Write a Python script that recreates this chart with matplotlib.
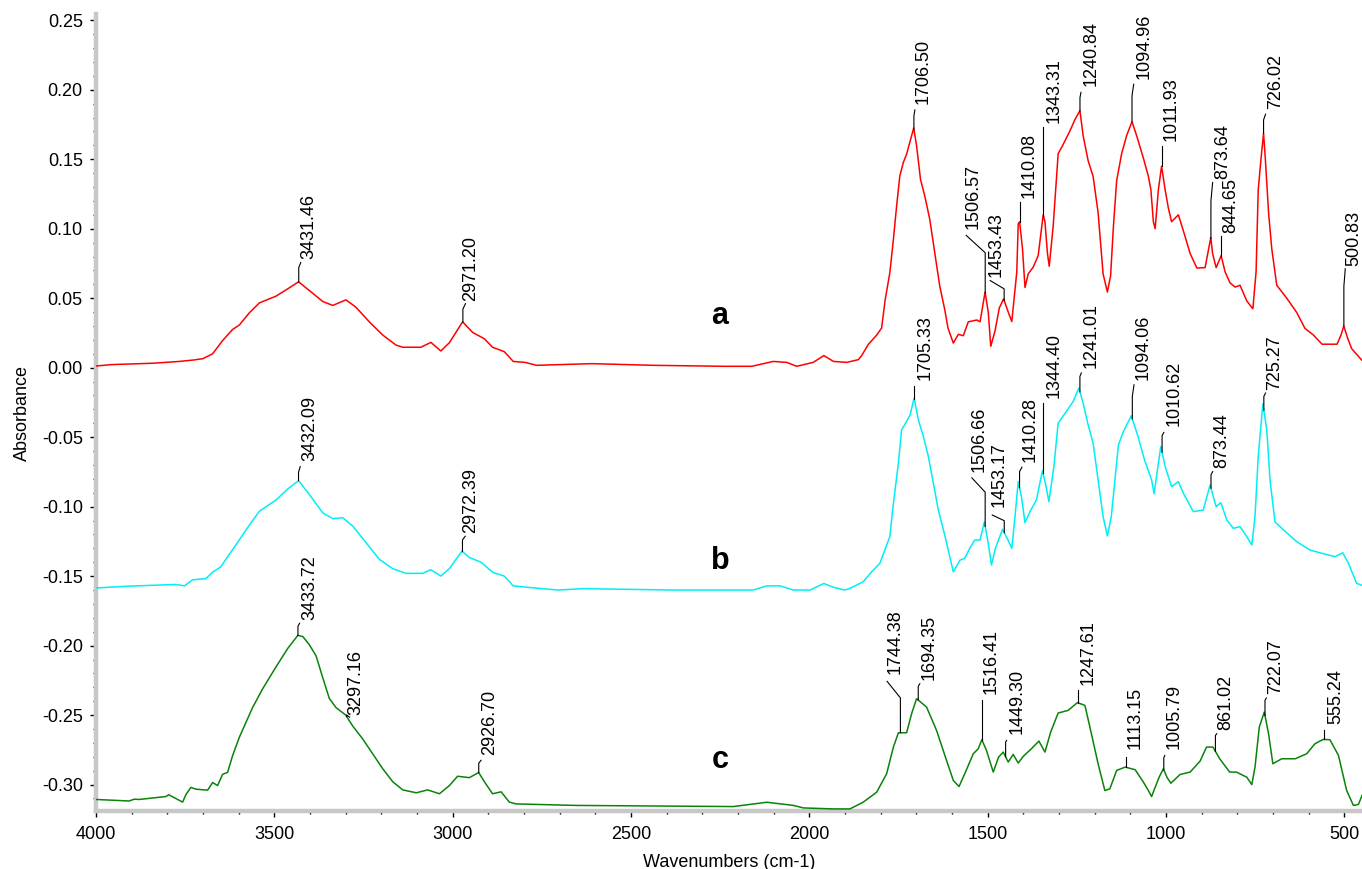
import numpy as np
import matplotlib
matplotlib.use("Agg")
import matplotlib.pyplot as plt
from matplotlib.ticker import MultipleLocator, FormatStrFormatter

plt.rcParams["font.family"] = ["Liberation Sans", "DejaVu Sans"]
plt.rcParams["axes.unicode_minus"] = False

# ---- spectra (wavenumber, absorbance) ----
red_wn = [4000, 3958, 3841, 3766, 3724, 3700, 3673, 3645, 3617, 3598, 3570, 3542,
          3495, 3462, 3432, 3402, 3364, 3336, 3299, 3271, 3233, 3196, 3159, 3140,
          3089, 3061, 3033, 3009, 2972, 2944, 2911, 2888, 2855, 2830, 2797, 2764,
          2610, 2437, 2241, 2161, 2101, 2063, 2035, 1989, 1959, 1932, 1895, 1862,
          1853, 1834, 1811, 1797, 1787, 1774, 1764, 1755, 1746, 1736, 1727, 1718,
          1707, 1699, 1688, 1676, 1662, 1648, 1634, 1620, 1611, 1596, 1582, 1568,
          1554, 1530, 1521, 1507, 1498, 1491, 1479, 1467, 1455, 1442, 1432, 1418,
          1414, 1410, 1402, 1395, 1386, 1372, 1358, 1344, 1339, 1332, 1327, 1316,
          1302, 1288, 1269, 1255, 1241, 1232, 1218, 1204, 1190, 1176, 1164, 1155,
          1147, 1138, 1124, 1110, 1095, 1082, 1063, 1049, 1042, 1035, 1030, 1021,
          1012, 1002, 993, 984, 965, 951, 932, 913, 890, 874, 869, 859, 845, 834,
          820, 806, 792, 773, 756, 747, 741, 733, 726, 721, 712, 703, 689, 661,
          633, 610, 586, 562, 520, 509, 501, 491, 479, 451]
red_abs = [0.0012, 0.0022, 0.0032, 0.0045, 0.0056, 0.0065, 0.0100, 0.0195, 0.0275,
           0.0307, 0.0395, 0.0466, 0.0515, 0.0568, 0.0618, 0.0555, 0.0476, 0.0448,
           0.0488, 0.0435, 0.0328, 0.0235, 0.0163, 0.0147, 0.0147, 0.0182, 0.0120,
           0.0180, 0.0330, 0.0254, 0.0208, 0.0147, 0.0115, 0.0045, 0.0038, 0.0017,
           0.0029, 0.0017, 0.0010, 0.0010, 0.0045, 0.0038, 0.0010, 0.0038, 0.0087,
           0.0045, 0.0038, 0.0058, 0.0087, 0.0169, 0.0234, 0.0286, 0.0490, 0.0683,
           0.0923, 0.1163, 0.1380, 0.1478, 0.1536, 0.1620, 0.1725, 0.1596, 0.1355,
           0.1235, 0.1067, 0.0827, 0.0586, 0.0418, 0.0286, 0.0177, 0.0240, 0.0230,
           0.0330, 0.0343, 0.0330, 0.0544, 0.0400, 0.0154, 0.0265, 0.0430, 0.0495,
           0.0400, 0.0332, 0.0690, 0.1035, 0.1050, 0.0855, 0.0577, 0.0675, 0.0724,
           0.0806, 0.1100, 0.1050, 0.0822, 0.0730, 0.1018, 0.1540, 0.1606, 0.1704,
           0.1785, 0.1850, 0.1670, 0.1490, 0.1377, 0.1116, 0.0675, 0.0544, 0.0660,
           0.1018, 0.1345, 0.1540, 0.1670, 0.1770, 0.1670, 0.1508, 0.1377, 0.1280,
           0.1050, 0.1000, 0.1280, 0.1450, 0.1280, 0.1149, 0.1050, 0.1100, 0.0986,
           0.0822, 0.0717, 0.0720, 0.0937, 0.0822, 0.0720, 0.0806, 0.0690, 0.0610,
           0.0580, 0.0593, 0.0480, 0.0424, 0.0690, 0.1280, 0.1508, 0.1687, 0.1500,
           0.1116, 0.0855, 0.0593, 0.0500, 0.0397, 0.0283, 0.0234, 0.0169, 0.0169,
           0.0234, 0.0300, 0.0218, 0.0137, 0.0055]

cyan_wn = [4000, 3907, 3776, 3752, 3729, 3692, 3673, 3650, 3636, 3607, 3579, 3542,
           3495, 3462, 3432, 3402, 3364, 3336, 3308, 3280, 3243, 3205, 3168, 3131,
           3084, 3061, 3033, 3009, 2974, 2953, 2920, 2888, 2855, 2830, 2792, 2704,
           2634, 2381, 2157, 2119, 2082, 2044, 1998, 1959, 1932, 1900, 1886, 1849,
           1825, 1802, 1788, 1774, 1764, 1750, 1741, 1727, 1717, 1706, 1694, 1680,
           1666, 1652, 1638, 1619, 1596, 1577, 1564, 1550, 1536, 1521, 1509, 1498,
           1489, 1478, 1458, 1445, 1432, 1423, 1414, 1405, 1395, 1381, 1363, 1346,
           1336, 1328, 1314, 1302, 1279, 1260, 1244, 1232, 1218, 1204, 1190, 1176,
           1164, 1153, 1142, 1133, 1119, 1097, 1078, 1060, 1040, 1033, 1021, 1014,
           1002, 984, 965, 951, 923, 895, 876, 859, 846, 829, 811, 792, 773, 759,
           750, 741, 728, 717, 708, 694, 670, 633, 596, 568, 526, 504, 488, 465, 450]
cyan_abs = [-0.1585, -0.1572, -0.1560, -0.1570, -0.1526, -0.1518, -0.1472, -0.1433,
            -0.1380, -0.1273, -0.1166, -0.1033, -0.0952, -0.0872, -0.0813, -0.0912,
            -0.1045, -0.1086, -0.1080, -0.1140, -0.1259, -0.1380, -0.1446, -0.1480,
            -0.1480, -0.1454, -0.1499, -0.1446, -0.1320, -0.1366, -0.1400, -0.1472,
            -0.1500, -0.1570, -0.1580, -0.1600, -0.1590, -0.1600, -0.1600, -0.1570,
            -0.1570, -0.1600, -0.1600, -0.1553, -0.1580, -0.1600, -0.1588, -0.1541,
            -0.1469, -0.1408, -0.1312, -0.1216, -0.0976, -0.0687, -0.0447, -0.0387,
            -0.0339, -0.0219, -0.0375, -0.0495, -0.0639, -0.0831, -0.1024, -0.1216,
            -0.1469, -0.1384, -0.1372, -0.1300, -0.1240, -0.1240, -0.1110, -0.1264,
            -0.1420, -0.1300, -0.1163, -0.1228, -0.1300, -0.1072, -0.0820, -0.0928,
            -0.1115, -0.1036, -0.0952, -0.0740, -0.0856, -0.0964, -0.0712, -0.0399,
            -0.0315, -0.0243, -0.0147, -0.0255, -0.0411, -0.0543, -0.0807, -0.1072,
            -0.1211, -0.1072, -0.0784, -0.0555, -0.0459, -0.0346, -0.0495, -0.0663,
            -0.0807, -0.0908, -0.0687, -0.0567, -0.0712, -0.0856, -0.0820, -0.0903,
            -0.1036, -0.1024, -0.0844, -0.1000, -0.0971, -0.1096, -0.1156, -0.1144,
            -0.1216, -0.1276, -0.1072, -0.0639, -0.0260, -0.0447, -0.0807, -0.1110,
            -0.1168, -0.1252, -0.1312, -0.1332, -0.1360, -0.1332, -0.1408, -0.1553,
            -0.1565]

green_wn = [4000, 3907, 3893, 3879, 3804, 3796, 3776, 3757, 3748, 3734, 3720, 3687,
            3673, 3659, 3645, 3631, 3617, 3598, 3584, 3561, 3533, 3495, 3462, 3434,
            3420, 3402, 3383, 3364, 3346, 3327, 3300, 3280, 3252, 3224, 3196, 3168,
            3140, 3102, 3070, 3037, 3009, 2986, 2953, 2927, 2911, 2888, 2864, 2841,
            2822, 2652, 2213, 2176, 2119, 2044, 2016, 1932, 1886, 1849, 1811, 1783,
            1764, 1750, 1727, 1713, 1699, 1671, 1643, 1615, 1596, 1580, 1564, 1540,
            1526, 1516, 1503, 1484, 1469, 1456, 1442, 1428, 1414, 1400, 1377, 1356,
            1339, 1323, 1302, 1274, 1248, 1227, 1213, 1190, 1171, 1157, 1138, 1114,
            1086, 1063, 1049, 1040, 1030, 1018, 1007, 997, 986, 960, 932, 904, 886,
            868, 849, 821, 802, 773, 759, 750, 738, 724, 712, 700, 675, 637, 605,
            582, 559, 540, 516, 493, 474, 460, 450]
green_abs = [-0.3107, -0.3118, -0.3105, -0.3107, -0.3086, -0.3073, -0.3100, -0.3126,
             -0.3073, -0.3020, -0.3033, -0.3040, -0.2985, -0.3007, -0.2926, -0.2912,
             -0.2792, -0.2659, -0.2579, -0.2446, -0.2312, -0.2152, -0.2019, -0.1926,
             -0.1935, -0.1993, -0.2073, -0.2232, -0.2379, -0.2446, -0.2499, -0.2579,
             -0.2672, -0.2779, -0.2886, -0.2979, -0.3038, -0.3059, -0.3038, -0.3066,
             -0.3007, -0.2940, -0.2950, -0.2913, -0.2979, -0.3066, -0.3052, -0.3126,
             -0.3139, -0.3150, -0.3158, -0.3146, -0.3127, -0.3150, -0.3168, -0.3175,
             -0.3175, -0.3127, -0.3055, -0.2922, -0.2730, -0.2627, -0.2627, -0.2490,
             -0.2382, -0.2442, -0.2610, -0.2826, -0.2970, -0.3014, -0.2922, -0.2778,
             -0.2742, -0.2677, -0.2754, -0.2910, -0.2802, -0.2766, -0.2838, -0.2783,
             -0.2845, -0.2797, -0.2742, -0.2687, -0.2766, -0.2622, -0.2485, -0.2466,
             -0.2410, -0.2430, -0.2586, -0.2850, -0.3043, -0.3030, -0.2898, -0.2874,
             -0.2893, -0.2982, -0.3043, -0.3086, -0.3019, -0.2942, -0.2886, -0.2947,
             -0.2990, -0.2927, -0.2910, -0.2831, -0.2730, -0.2730, -0.2814, -0.2910,
             -0.2910, -0.2947, -0.3000, -0.2874, -0.2586, -0.2478, -0.2634, -0.2850,
             -0.2814, -0.2814, -0.2778, -0.2706, -0.2675, -0.2677, -0.2790, -0.3043,
             -0.3150, -0.3143, -0.3078]

# ---- peak labels ----
red_peaks = ["3431.46", "2971.20", "1706.50", "1506.57", "1453.43", "1410.08",
             "1343.31", "1240.84", "1094.96", "1011.93", "873.64", "844.65",
             "726.02", "500.83"]
cyan_peaks = ["3432.09", "2972.39", "1705.33", "1506.66", "1453.17", "1410.28",
              "1344.40", "1241.01", "1094.06", "1010.62", "873.44", "725.27"]
green_peaks = ["3433.72", "3297.16", "2926.70", "1744.38", "1694.35", "1516.41",
               "1449.30", "1247.61", "1113.15", "1005.79", "861.02", "722.07",
               "555.24"]

# leader layout per label: top of vertical stem, kink dx (px), kink y,
# text dx (px), text bottom y
red_layout = [(0.0721, 2, 0.0757, 10, 0.0779), (0.0422, 2.6, 0.0461, 8, 0.0483),
              (0.1812, 1, 0.1855, 9, 0.1896), (0.0827, -19, 0.0952, -12, 0.0995),
              (0.0567, -14, 0.0627, -8, 0.0649), (0.1194, 0, 0.1194, 10, 0.1223),
              (0.1733, 0, 0.1733, 10.6, 0.1764), (0.1944, 1, 0.1981, 11, 0.2024),
              (0.1956, 1.7, 0.2040, 11.7, 0.2076), (0.1596, 0, 0.1596, 9.7, 0.1632),
              (0.1199, 1.7, 0.1332, 11.7, 0.1355), (0.0947, 0, 0.0947, 9.3, 0.0971),
              (0.1783, 2, 0.1824, 11.7, 0.1860), (0.0586, 1.4, 0.0712, 9.5, 0.0730)]
cyan_layout = [(-0.0752, 1.7, -0.0712, 11.7, -0.0672), (-0.1240, 2.7, -0.1213, 8.3, -0.1193),
               (-0.0130, 0, -0.0130, 10.7, -0.0087), (-0.0896, -13.3, -0.0793, -6.3, -0.0750),
               (-0.1101, -12, -0.1060, -5.6, -0.1002), (-0.0748, 2.4, -0.0716, 10.7, -0.0676),
               (-0.0255, 0, -0.0255, 10.6, -0.0218), (-0.0063, 1.4, -0.0038, 11.4, 0.0000),
               (-0.0207, 1.7, -0.0123, 11, -0.0087), (-0.0490, 1.7, -0.0466, 12.3, -0.0423),
               (-0.0771, 1.7, -0.0748, 11, -0.0723), (-0.0207, 1.7, -0.0182, 11, -0.0159)]
green_layout = [(-0.1860, 1.7, -0.1839, 11.7, -0.1817), (-0.2499, 3, -0.2515, 9.4, -0.2502),
                (-0.2846, 2.3, -0.2825, 10.7, -0.2790), (-0.2376, -13.3, -0.2257, -5, -0.2207),
                (-0.2293, 1.6, -0.2274, 10.6, -0.2250), (-0.2394, 0, -0.2394, 9.4, -0.2346),
                (-0.2693, 1, -0.2682, 11, -0.2633), (-0.2322, 0, -0.2322, 10.6, -0.2286),
                (-0.2798, 0, -0.2798, 10, -0.2742), (-0.2807, 1, -0.2790, 10, -0.2742),
                (-0.2646, 1.4, -0.2634, 10.7, -0.2610), (-0.2394, 1.4, -0.2377, 10.7, -0.2346),
                (-0.2610, 0, -0.2610, 11, -0.2567)]

trace_names = ["a", "b", "c"]
trace_colors = ["#ff0000", "#00eef5", "#0a830a"]

W, H = 1362, 869
fig = plt.figure(figsize=(W / 100, H / 100), dpi=100)
ax = fig.add_axes([96 / W, 1 - 811 / H, (W - 96) / W, (811 - 14) / H])
XMIN, XMAX = 4000, 450
ax.set_xlim(XMIN, XMAX)
ax.set_ylim(-0.3190, 0.2545)
wn_per_px = (XMIN - XMAX) / (W - 96)

series = [(red_wn, red_abs, red_peaks, red_layout),
          (cyan_wn, cyan_abs, cyan_peaks, cyan_layout),
          (green_wn, green_abs, green_peaks, green_layout)]

for (wn, ab, peaks, layout), color in zip(series, trace_colors):
    ax.plot(wn, ab, color=color, lw=1.1, zorder=3)
    wn_r = np.array(wn[::-1], dtype=float)
    ab_r = np.array(ab[::-1], dtype=float)
    for lab, (ytop, kdx, ky, tdx, ty) in zip(peaks, layout):
        x = float(lab)
        ypk = np.interp(x, wn_r, ab_r)
        xk = x - kdx * wn_per_px
        ax.plot([x, x, xk], [ypk, ytop, ky], color="black", lw=0.8, zorder=4)
        ax.text(x - tdx * wn_per_px, ty, lab, rotation=90, ha="center",
                va="bottom", fontsize=13, color="black", zorder=5)

# curve letters
letter_x = 2250
letter_y = [0.0375, -0.139, -0.282]
for name, ly in zip(trace_names, letter_y):
    ax.text(letter_x, ly, name, fontsize=22, fontweight="bold", ha="center",
            va="center")

for side in ["top", "right"]:
    ax.spines[side].set_visible(False)
for side in ["left", "bottom"]:
    ax.spines[side].set_color("#c8c8c8")
    ax.spines[side].set_linewidth(3.2)

ax.xaxis.set_major_locator(MultipleLocator(500))
ax.xaxis.set_minor_locator(MultipleLocator(100))
ax.yaxis.set_major_locator(MultipleLocator(0.05))
ax.yaxis.set_minor_locator(MultipleLocator(0.01))
ax.yaxis.set_major_formatter(FormatStrFormatter("%.2f"))
ax.xaxis.set_major_formatter(FormatStrFormatter("%d"))
ax.tick_params(axis="both", which="major", direction="out", length=4.5,
               width=1.0, color="black", labelsize=13)
ax.tick_params(axis="both", which="minor", direction="out", length=2.5,
               width=1.0, color="black")
ax.tick_params(axis="x", which="major", pad=6)
ax.tick_params(axis="y", which="major", pad=5)

ax.set_xlabel("Wavenumbers (cm-1)", fontsize=13, labelpad=8)
ax.set_ylabel("Absorbance", fontsize=13, labelpad=8)

fig.savefig("out.png", dpi=100)
